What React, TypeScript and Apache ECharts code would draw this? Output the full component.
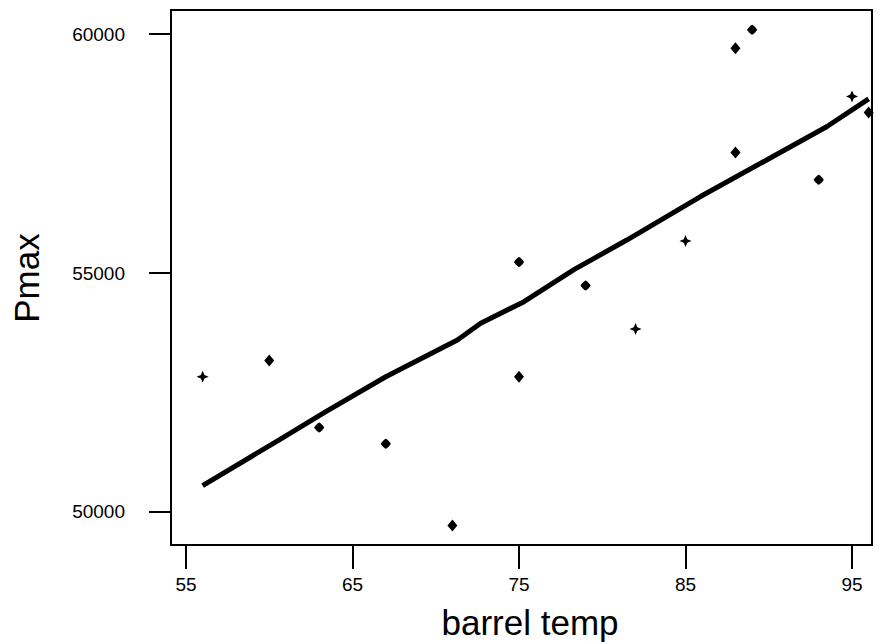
import React, { useEffect, useRef } from "react";
import * as echarts from "echarts";

const xTicks = [55, 65, 75, 85, 95];
const yTicks = [50000, 55000, 60000];

const starPoints = [
  [56, 52830],
  [82, 53830],
  [85, 55670],
  [95, 58695],
];
const diamondPoints = [
  [60, 53170],
  [71, 49715],
  [75, 52830],
  [88, 59705],
  [88, 57520],
  [96, 58360],
];
const roundPoints = [
  [63, 51765],
  [67, 51425],
  [75, 55230],
  [79, 54740],
  [89, 60090],
  [93, 56950],
];
const fitLine = [
  [56, 50550],
  [60.6, 51510],
  [63.4, 52100],
  [67, 52830],
  [71.3, 53600],
  [72.7, 53950],
  [75.3, 54400],
  [78.3, 55070],
  [81.5, 55695],
  [85.9, 56600],
  [89.9, 57370],
  [93.5, 58065],
  [96, 58645],
];

const FONT = "'Liberation Sans', Arial, Helvetica, sans-serif";
const STAR = "path://M0,-10 L3,-3 L10,0 L3,3 L0,10 L-3,3 L-10,0 L-3,-3 Z";
const ROUND = "path://M0,-10 C3,-9 9,-3 10,0 C9,3 3,9 0,10 C-3,9 -9,3 -10,0 C-9,-3 -3,-9 0,-10 Z";

export default function App() {
  const ref = useRef<HTMLDivElement>(null);
  useEffect(() => {
    if (!ref.current) return;
    const chart = echarts.init(ref.current, undefined, { renderer: "svg" });
    chart.setOption({
      animation: false,
      backgroundColor: "#fff",
      grid: {
        left: 171,
        top: 10,
        right: 12,
        bottom: 99,
        show: true,
        borderColor: "#000",
        borderWidth: 2,
        backgroundColor: "transparent",
      },
      xAxis: {
        type: "value",
        min: 54.1,
        max: 96.2,
        axisLine: { show: true, onZero: false, lineStyle: { color: "#000", width: 2 } },
        axisTick: { show: true, inside: false, length: 24, customValues: xTicks, lineStyle: { color: "#000", width: 2 } },
        axisLabel: {
          customValues: xTicks,
          margin: 30,
          color: "#000",
          fontSize: 19,
          fontFamily: FONT,
          formatter: (v: number) => String(v),
        },
        splitLine: { show: false },
      },
      yAxis: {
        type: "value",
        min: 49309,
        max: 60503,
        axisLine: { show: true, onZero: false, lineStyle: { color: "#000", width: 2 } },
        axisTick: { show: true, inside: false, length: 22, customValues: yTicks, lineStyle: { color: "#000", width: 2 } },
        axisLabel: {
          customValues: yTicks,
          margin: 46,
          color: "#000",
          fontSize: 19,
          fontFamily: FONT,
          formatter: (v: number) => String(v),
        },
        splitLine: { show: false },
      },
      graphic: [
        {
          type: "text",
          x: 530,
          y: 622,
          style: { text: "barrel temp", fontSize: 35, fontFamily: FONT, fill: "#000", align: "center", verticalAlign: "middle" },
        },
        {
          type: "text",
          x: 26,
          y: 278,
          rotation: Math.PI / 2,
          style: { text: "Pmax", fontSize: 35, fontFamily: FONT, fill: "#000", align: "center", verticalAlign: "middle" },
        },
      ],
      series: [
        {
          type: "line",
          data: fitLine,
          showSymbol: false,
          symbol: "none",
          smooth: false,
          lineStyle: { color: "#000", width: 5 },
          z: 3,
        },
        {
          type: "scatter",
          data: starPoints,
          symbol: STAR,
          symbolSize: 12,
          itemStyle: { color: "#000", opacity: 1 },
          z: 4,
        },
        {
          type: "scatter",
          data: diamondPoints,
          symbol: "diamond",
          symbolSize: [10, 12],
          itemStyle: { color: "#000", opacity: 1 },
          z: 4,
        },
        {
          type: "scatter",
          data: roundPoints,
          symbol: ROUND,
          symbolSize: 10,
          itemStyle: { color: "#000", opacity: 1 },
          z: 4,
        },
      ],
    });
    return () => chart.dispose();
  }, []);
  return <div ref={ref} style={{ width: 884, height: 644, position: "absolute", left: 0, top: 0 }} />;
}
